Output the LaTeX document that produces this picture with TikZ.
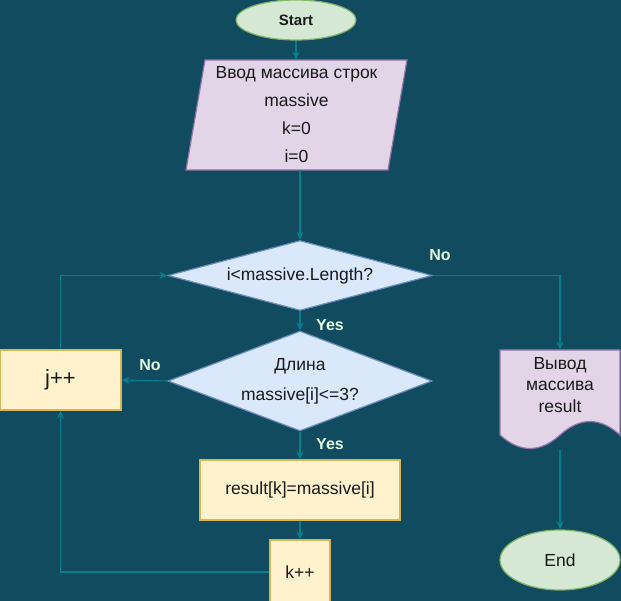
\documentclass[tikz,border=0pt]{standalone}
\usepackage{fontspec}
\setmainfont{Liberation Sans}
\usetikzlibrary{arrows.meta,shapes.geometric,calc}
\definecolor{bg}{HTML}{114B5F}
\definecolor{ln}{HTML}{028090}
\definecolor{lbl}{HTML}{E4FDE1}
\definecolor{gfill}{HTML}{D5E8D4}\definecolor{gdraw}{HTML}{82B366}
\definecolor{pfill}{HTML}{E1D5E7}\definecolor{pdraw}{HTML}{9673A6}
\definecolor{bfill}{HTML}{DAE8FC}\definecolor{bdraw}{HTML}{6C8EBF}
\definecolor{yfill}{HTML}{FFF2CC}\definecolor{ydraw}{HTML}{D6B656}
\begin{document}
\begin{tikzpicture}[x=1pt,y=-1pt,
  every node/.style={font=\fontsize{17.5}{21}\selectfont, text=black!90},
  conn/.style={draw=ln, line width=1.1pt, -{Stealth[length=8pt,width=7pt]}},
  lblnode/.style={text=lbl, font=\bfseries\fontsize{16}{19}\selectfont},
  termnode/.style={ellipse, draw=gdraw, fill=gfill, line width=1.2pt, inner sep=0pt},
  decnode/.style={diamond, draw=bdraw, fill=bfill, line width=1.2pt, inner sep=0pt, minimum width=264pt, align=center},
  procnode/.style={rectangle, draw=ydraw, fill=yfill, line width=1.2pt, inner sep=0pt},
  iostyle/.style={draw=pdraw, fill=pfill, line width=1.2pt}]
\fill[bg] (0,0) rectangle (621,601);
\useasboundingbox (0,0) rectangle (621,601);

% Start
\node[termnode, minimum width=120pt, minimum height=40pt, font=\bfseries\fontsize{15}{18}\selectfont] (start) at (296,20) {Start};

% input parallelogram
\draw[iostyle] (205,60) -- (407,60) -- (388,170) -- (186,170) -- cycle;
\node[minimum width=202pt, minimum height=110pt, inner sep=0pt, align=center, font=\fontsize{17.5}{28}\selectfont] (para) at (296.5,115) {Ввод массива строк\\massive\\k=0\\i=0};

% decisions
\node[decnode, minimum height=70pt, aspect=3.77] (d1) at (300,275.5) {i<massive.Length?};
\node[decnode, minimum height=100pt, aspect=2.64, font=\fontsize{17.5}{30}\selectfont] (d2) at (300,381) {Длина\\massive[i]<=3?};

% process boxes
\node[procnode, minimum width=121pt, minimum height=60pt, font=\fontsize{22}{26}\selectfont] (jpp) at (60.5,380) {j++};
\node[procnode, minimum width=200pt, minimum height=60pt] (res) at (300,490) {result[k]=massive[i]};
\node[procnode, minimum width=60pt, minimum height=64pt] (kpp) at (300,572) {k++};

% output document
\node[minimum width=120pt, minimum height=100pt, inner sep=0pt] (doc) at (560,400) {};
\draw[iostyle] (500,350) -- (620,350) -- (620,435) .. controls (600,417) and (580,417) .. (560,435) .. controls (540,453) and (520,453) .. (500,435) -- cycle;
\node[align=center, font=\fontsize{17.5}{21.5}\selectfont] (doctext) at (560,385) {Вывод\\массива\\result};

% End
\node[termnode, minimum width=120pt, minimum height=60pt] (end) at (560,560) {End};

% connectors
\draw[conn] (start.south) -- (start.south |- para.north);
\draw[conn] (para.south -| d1.north) -- (d1.north);
\draw[conn] (d1.south) -- (d2.north);
\draw[conn] (d2.west) -- (jpp.east);
\draw[conn] (jpp.north) |- (d1.west);
\draw[conn] (d2.south) -- (res.north);
\draw[conn] (res.south) -- (kpp.north);
\draw[conn] (kpp.west) -| (jpp.south);
\draw[conn] (d1.east) -| (doc.north);
\draw[conn] (doc.south) -- (end.north);

% labels
\node[lblnode] (yes1) at (330,325) {Yes};
\node[lblnode] (yes2) at (330,444) {Yes};
\node[lblnode] (no1) at (440,255) {No};
\node[lblnode] (no2) at (150,365) {No};
\end{tikzpicture}
\end{document}
